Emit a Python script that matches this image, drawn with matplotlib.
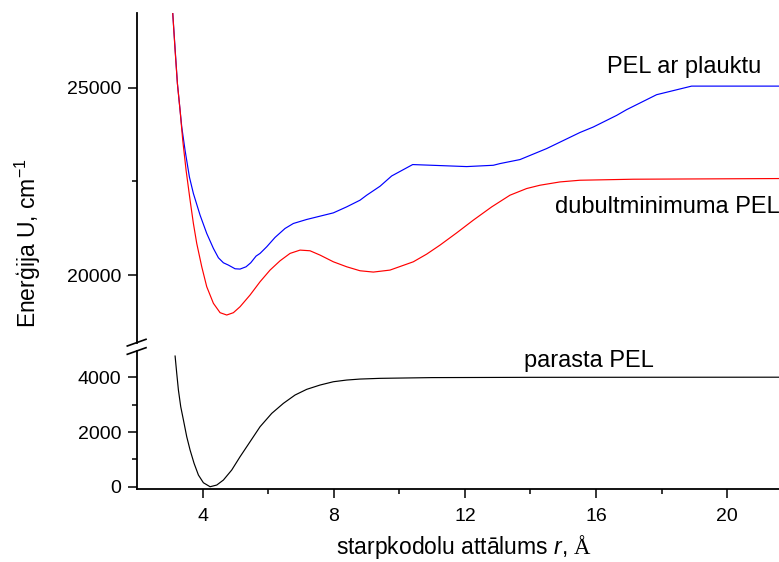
import numpy as np
import matplotlib
matplotlib.use("Agg")
import matplotlib.pyplot as plt
from matplotlib.lines import Line2D

plt.rcParams['font.family'] = ['Liberation Sans', 'DejaVu Sans']
plt.rcParams['mathtext.fontset'] = 'custom'
plt.rcParams['mathtext.it'] = 'Liberation Sans:italic'
plt.rcParams['mathtext.rm'] = 'Liberation Serif'
plt.rcParams['mathtext.sf'] = 'Liberation Sans'

# Potential energy curves, r in Å, U in cm^-1
r_plaukts = [3.090, 3.233, 3.365, 3.466, 3.598, 3.720, 3.924, 4.127, 4.330, 4.483,
             4.635, 4.788, 4.991, 5.143, 5.326, 5.469, 5.631, 5.753, 5.956, 6.210,
             6.515, 6.769, 7.176, 7.582, 7.989, 8.395, 8.802, 9.005, 9.412, 9.767,
             10.408, 11.241, 12.054, 12.867, 13.07, 13.680, 14.493, 15.509, 15.915,
             16.63, 16.932, 17.847, 18.914, 21.58]
u_plaukts = [26981, 25100, 23946, 23325, 22615, 22173, 21595, 21108, 20709, 20459,
             20326, 20264, 20166, 20158, 20219, 20326, 20504, 20576, 20752, 21002,
             21241, 21374, 21481, 21569, 21657, 21817, 21995, 22128, 22367, 22641,
             22945, 22918, 22891, 22926, 22971, 23078, 23371, 23800, 23946,
             24257, 24409, 24808, 25037, 25037]

r_dubult = [3.090, 3.162, 3.233, 3.314, 3.395, 3.497, 3.619, 3.720, 3.822, 3.975,
            4.127, 4.330, 4.534, 4.737, 4.940, 5.143, 5.448, 5.753, 6.058, 6.363,
            6.668, 6.973, 7.277, 7.582, 7.989, 8.396, 8.802, 9.208, 9.716, 10.427,
            10.835, 11.241, 11.750, 12.256, 12.817, 13.375, 13.884, 14.290, 14.900,
            15.510, 17.13, 21.58]
u_dubult = [26981, 25988, 25100, 24390, 23592, 22793, 21995, 21374, 20842, 20219,
            19687, 19245, 18995, 18933, 18995, 19154, 19466, 19820, 20131, 20379,
            20576, 20664, 20646, 20531, 20352, 20219, 20113, 20078, 20131, 20352,
            20557, 20797, 21124, 21462, 21816, 22128, 22306, 22394, 22482,
            22527, 22554, 22572]

r_parasta = [3.162, 3.212, 3.263, 3.334, 3.416, 3.517, 3.619, 3.741, 3.873, 4.025,
             4.229, 4.432, 4.635, 4.889, 5.143, 5.448, 5.753, 6.109, 6.465, 6.820,
             7.176, 7.582, 7.989, 8.396, 8.802, 9.412, 11.0, 14.0, 21.58]
u_parasta = [4778, 4145, 3535, 2925, 2439, 1828, 1342, 854, 428, 146,
             0, 62, 245, 611, 1097, 1645, 2194, 2682, 3049, 3353,
             3561, 3718, 3839, 3901, 3937, 3963, 3990, 4000, 4005]

x_ticks = [4, 8, 12, 16, 20]
x_minor = [6, 10, 14, 18]
top_ticks = [20000, 25000]
top_minor = [22500]
bottom_ticks = [0, 2000, 4000]
bottom_minor = [1000, 3000]

W, H = 779, 562
fig = plt.figure(figsize=(W / 100, H / 100), dpi=100)


def px_box(left, top, right, bottom):
    return [left / W, 1 - bottom / H, (right - left) / W, (bottom - top) / H]


ax_top = fig.add_axes(px_box(137, 12.5, 779, 342.5))
ax_bot = fig.add_axes(px_box(137, 350.8, 779, 489.2))

xlim = (2.0, 21.58)
lw = 0.85
ax_top.plot(r_plaukts, u_plaukts, color='#0000ff', lw=lw)
ax_top.plot(r_dubult, u_dubult, color='#ff0000', lw=lw)
ax_bot.plot(r_parasta, u_parasta, color='black', lw=lw)

ax_top.set_xlim(*xlim)
ax_bot.set_xlim(*xlim)
ax_top.set_ylim(18200, 27000)
ax_bot.set_ylim(-90, 4970)

spine_lw = 1.3
for ax in (ax_top, ax_bot):
    for s in ('top', 'right'):
        ax.spines[s].set_visible(False)
    for s in ('left', 'bottom'):
        ax.spines[s].set_linewidth(spine_lw)
    ax.tick_params(which='major', direction='out', length=6.5, width=1.1,
                   labelsize=14, pad=5)
    ax.tick_params(which='minor', direction='out', length=3.5, width=1.1)

ax_top.spines['bottom'].set_visible(False)
ax_top.tick_params(axis='x', which='both', bottom=False, labelbottom=False)
ax_top.set_xticks([])
ax_top.set_yticks(top_ticks)
ax_top.set_yticks(top_minor, minor=True)

ax_bot.set_xticks(x_ticks)
ax_bot.set_xticks(x_minor, minor=True)
ax_bot.set_yticks(bottom_ticks)
ax_bot.set_yticks(bottom_minor, minor=True)
ax_bot.tick_params(axis='x', which='major', pad=7)

# axis break marks
for y0, y1 in ((346.0, 339.3), (354.3, 347.7)):
    fig.add_artist(Line2D([127.3 / W, 146 / W], [1 - y0 / H, 1 - y1 / H],
                          transform=fig.transFigure, color='black', lw=1.2))

# curve labels
ax_top.text(18.68, 25383, 'PEL ar plauktu', fontsize=17, ha='center', va='baseline')
ax_top.text(14.75, 21649, 'dubultminimuma PEL', fontsize=17, ha='left', va='baseline')
ax_bot.text(13.80, 4365, 'parasta PEL', fontsize=17, ha='left', va='baseline')

fig.text(464 / W, 1 - 547 / H, 'starpkodolu attālums $\\mathit{r}$, $\\mathrm{Å}$',
         fontsize=16.5, ha='center', va='center')
fig.text(28 / W, 1 - 243.5 / H, 'Enerģija U, cm$^{\\mathsf{-1}}$',
         fontsize=16.5, ha='center', va='center', rotation=90)

fig.savefig('out.png', dpi=100)
